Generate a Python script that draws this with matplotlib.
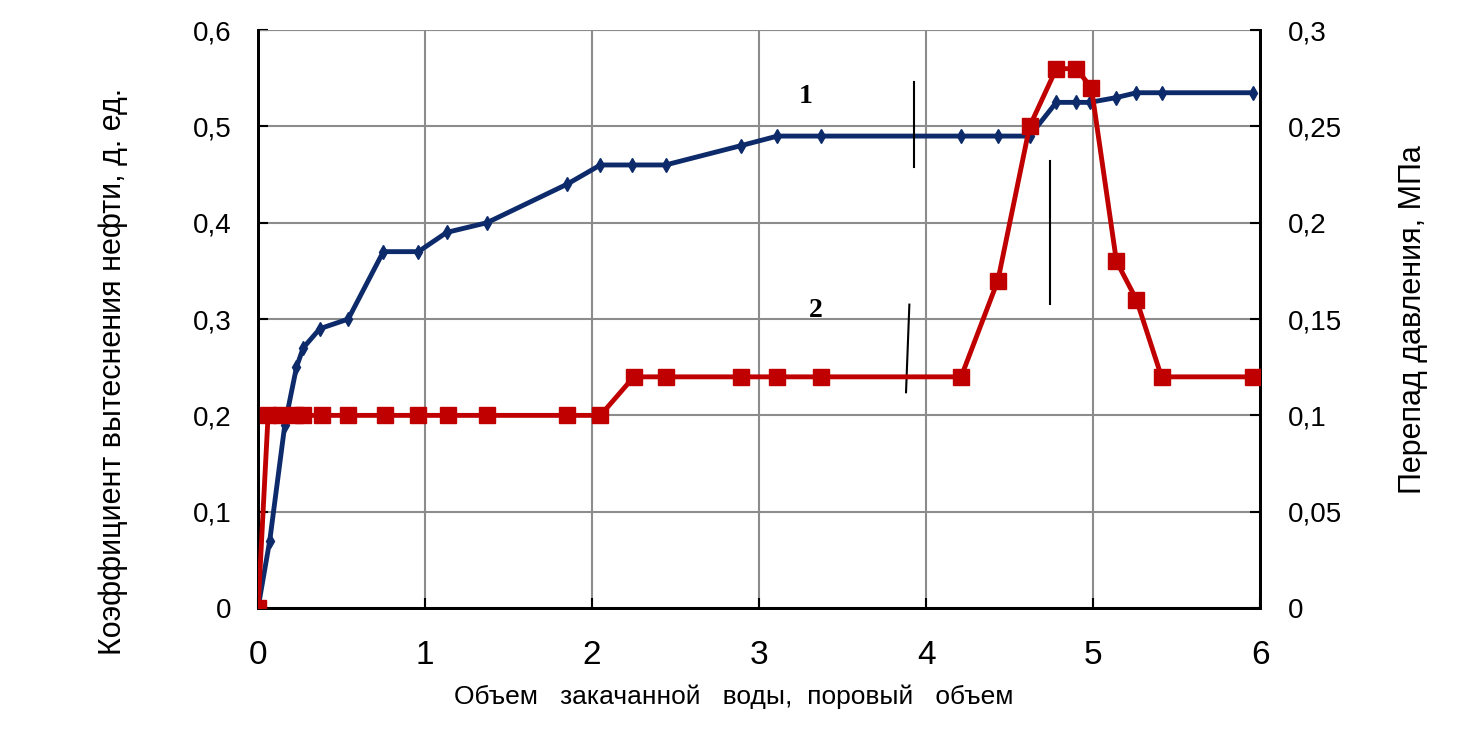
import matplotlib as mpl
mpl.use("Agg")
from matplotlib import pyplot as plt

mpl.rcParams['font.family'] = ['Liberation Sans', 'DejaVu Sans']

# кривая 1 - коэффициент вытеснения нефти, д. ед.
x_kv = [0, 0.07, 0.16, 0.23, 0.27, 0.37, 0.54, 0.75, 0.96, 1.13, 1.37,
        1.85, 2.05, 2.24, 2.44, 2.89, 3.11, 3.37, 4.21, 4.43, 4.62,
        4.78, 4.90, 4.98, 5.14, 5.26, 5.41, 5.96]
kv = [0, 0.07, 0.19, 0.25, 0.27, 0.29, 0.30, 0.37, 0.37, 0.39, 0.40,
      0.44, 0.46, 0.46, 0.46, 0.48, 0.49, 0.49, 0.49, 0.49, 0.49,
      0.525, 0.525, 0.525, 0.53, 0.535, 0.535, 0.535]

# кривая 2 - перепад давления, МПа
x_dp = [0, 0.06, 0.14, 0.22, 0.27, 0.38, 0.54, 0.76, 0.96, 1.14, 1.37,
        1.85, 2.05, 2.25, 2.44, 2.89, 3.11, 3.37, 4.21, 4.43, 4.62,
        4.78, 4.90, 4.99, 5.14, 5.26, 5.41, 5.96]
dp = [0, 0.1, 0.1, 0.1, 0.1, 0.1, 0.1, 0.1, 0.1, 0.1, 0.1,
      0.1, 0.1, 0.12, 0.12, 0.12, 0.12, 0.12, 0.12, 0.17, 0.25,
      0.28, 0.28, 0.27, 0.18, 0.16, 0.12, 0.12]

# выноски (отрезки) и подписи кривых
vlines_x = [(3.93, 3.93), (4.74, 4.74), (3.90, 3.88)]
vlines_y = [(0.546, 0.458), (0.464, 0.316), (0.315, 0.224)]
labels = ['1', '2']
labels_xy = [(3.28, 0.531), (3.34, 0.309)]

yticks_l = [0, 0.1, 0.2, 0.3, 0.4, 0.5, 0.6]
yticks_r = [0, 0.05, 0.1, 0.15, 0.2, 0.25, 0.3]

blue = '#0d2b6b'
red = '#c00000'

fig = plt.figure(figsize=(14.84, 7.35), dpi=100)
ax = fig.add_axes([0.1739, 0.1728, 0.6752, 0.7862])
ax2 = ax.twinx()

ax.plot(x_kv, kv, color=blue, lw=3.5, marker='d', ms=7.5, zorder=3)
ax2.plot(x_dp, dp, color=red, lw=3.5, marker='s', ms=11.5, zorder=3)

for xs, ys in zip(vlines_x, vlines_y):
    ax.plot(xs, ys, color='black', lw=1.5, zorder=4)
for t, (tx, ty) in zip(labels, labels_xy):
    ax.text(tx, ty, t, fontsize=20, fontweight='bold', family='Liberation Serif',
            ha='center', va='center')

ax.set_xlim(0, 6)
ax.set_ylim(0, 0.6)
ax2.set_ylim(0, 0.3)
ax.set_xticks(range(7))
ax.set_yticks(yticks_l)
ax.set_yticklabels([f'{v:g}'.replace('.', ',') for v in yticks_l], fontsize=20)
ax2.set_yticks(yticks_r)
ax2.set_yticklabels([f'{v:g}'.replace('.', ',') for v in yticks_r], fontsize=20)
ax.tick_params(axis='x', labelsize=24, direction='in', length=7, width=1.5, pad=23)
ax.tick_params(axis='y', direction='in', length=7, width=1.5, pad=19)
ax2.tick_params(axis='y', direction='in', length=7, width=1.5, pad=20)

ax.grid(True, color='#8c8c8c', lw=1.5)
ax.set_axisbelow(True)
for a in (ax, ax2):
    a.spines['top'].set_visible(False)
    for s in ('left', 'right', 'bottom'):
        a.spines[s].set_linewidth(2)
ax.axhline(0.6, color='#8c8c8c', lw=1.5, zorder=1)

ax.set_xlabel('Объем   закачанной   воды,  поровый   объем', fontsize=19, labelpad=10)
ax.xaxis.label.set_x(0.475)
ax.set_ylabel('Коэффициент вытеснения нефти, д. ед.', fontsize=22, labelpad=47)
ax.yaxis.label.set_y(0.41)
ax2.set_ylabel('Перепад давления, МПа', fontsize=22, labelpad=40)

plt.savefig('out.png', dpi=100)
